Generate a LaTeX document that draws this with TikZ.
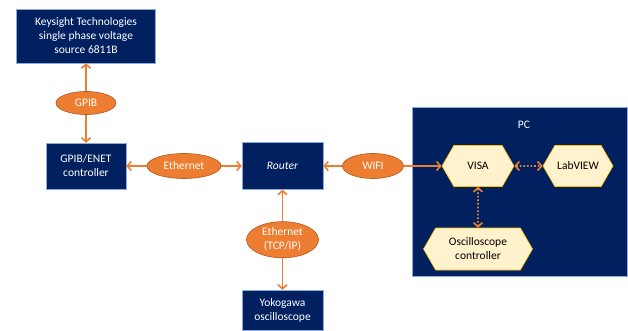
\documentclass[tikz,border=0pt]{standalone}
\usepackage{fontspec}
\setmainfont{Carlito}
\usetikzlibrary{shapes,arrows.meta}

\definecolor{navy}{HTML}{002060}
\definecolor{boxline}{HTML}{8FAADC}
\definecolor{linkorange}{HTML}{ED7D31}
\definecolor{ovalline}{HTML}{AE5A21}
\definecolor{hexfill}{HTML}{FFF2CC}
\definecolor{hexline}{HTML}{FFC000}

\begin{document}
\begin{tikzpicture}[x=1pt,y=-1pt,
  every node/.style={font=\fontsize{11.5}{14}\selectfont},
  device/.style={draw=boxline, line width=0.4pt, fill=navy, text=white, align=center, inner sep=2pt},
  bus/.style={ellipse, draw=ovalline, line width=0.6pt, fill=linkorange, text=white, align=center, inner sep=1pt},
  soft/.style={signal, signal to=west and east, signal pointer angle=120, draw=hexline, line width=0.6pt, fill=hexfill, align=center, inner sep=2pt},
  link/.style={draw=linkorange, line width=1.6pt, {Straight Barb[length=4pt,width=9pt]}-{Straight Barb[length=4pt,width=9pt]}}]
  \useasboundingbox (0,0) rectangle (628,331);

  % instruments
  \node[device, minimum width=139pt, minimum height=54pt] (keysight) at (86,36) {Keysight Technologies\\ single phase voltage\\ source 6811B};
  \node[device, minimum width=80pt, minimum height=46pt] (gpibenet) at (86,166) {GPIB/ENET\\ controller};
  \node[device, minimum width=81pt, minimum height=47pt] (router) at (282.5,166) {\textit{Router}};
  \node[device, minimum width=81pt, minimum height=40pt] (yokogawa) at (282.5,310) {Yokogawa\\ oscilloscope};

  % computer
  \node[device, minimum width=215pt, minimum height=169pt] (pc) at (519.5,191.5) {};
  \node[text=white] (pclabel) at (524,125) {PC};
  \node[soft, minimum width=72pt, minimum height=41pt] (visa) at (478,166) {VISA};
  \node[soft, minimum width=70pt, minimum height=41pt] (labview) at (578,166) {LabVIEW};
  \node[soft, minimum width=109pt, minimum height=42pt] (oscctrl) at (478,249) {Oscilloscope\\ controller};

  \path[link] (keysight) edge node[bus, minimum width=60pt, minimum height=23pt] (gpib) {GPIB} (gpibenet);
  \path[link] (gpibenet) edge node[bus, minimum width=74pt, minimum height=25pt] (ethernet) {Ethernet} (router);
  \path[link] (router) edge node[bus, pos=0.42, minimum width=61pt, minimum height=25pt] (wifi) {WIFI} (visa);
  \path[link] (router) edge node[bus, minimum width=72pt, minimum height=36pt] (tcpip) {Ethernet\\ (TCP/IP)} (yokogawa);

  \path[link, dotted] (visa) edge (labview);
  \path[link, dotted] (visa) edge (oscctrl);
\end{tikzpicture}
\end{document}
